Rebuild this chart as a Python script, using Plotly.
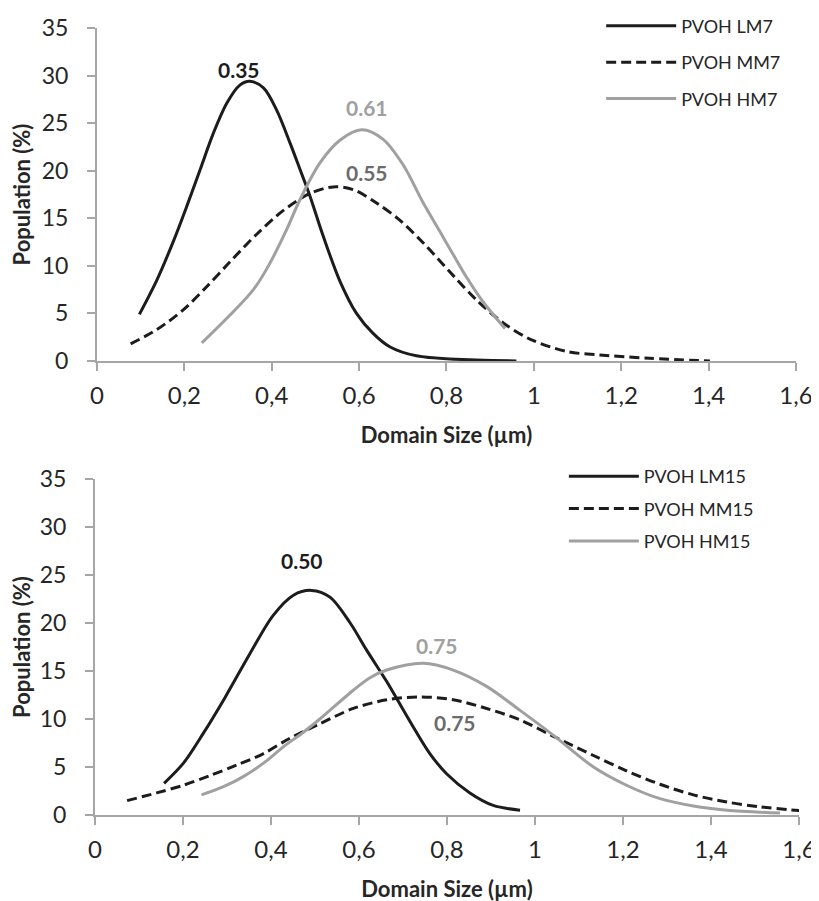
import plotly.graph_objects as go

# ---------- data ----------
# top panel
lm7_x = [0.097, 0.137, 0.175, 0.205, 0.236, 0.266, 0.297, 0.327, 0.350, 0.381, 0.411, 0.442, 0.465, 0.487, 0.518, 0.556, 0.594, 0.632, 0.670, 0.731, 0.96]
lm7_y = [4.9, 8.5, 12.6, 16.2, 20.1, 23.9, 27.1, 29.0, 29.4, 28.7, 26.4, 22.9, 20.1, 17.4, 13.1, 8.4, 5.0, 2.9, 1.5, 0.55, 0.0]
mm7_x = [0.077, 0.137, 0.198, 0.251, 0.304, 0.365, 0.426, 0.487, 0.541, 0.587, 0.640, 0.693, 0.747, 0.815, 0.869, 0.930, 0.991, 1.075, 1.151, 1.265, 1.403]
mm7_y = [1.8, 3.3, 5.4, 7.8, 10.4, 13.3, 15.8, 17.6, 18.3, 18.0, 16.6, 14.8, 12.4, 9.0, 6.4, 4.0, 2.3, 1.0, 0.63, 0.28, 0.0]
hm7_x = [0.240, 0.358, 0.396, 0.434, 0.465, 0.510, 0.556, 0.606, 0.655, 0.701, 0.747, 0.785, 0.819, 0.846, 0.884, 0.934]
hm7_y = [1.9, 7.5, 10.3, 13.8, 17.0, 20.8, 23.2, 24.3, 23.3, 20.6, 16.6, 13.6, 10.9, 8.8, 6.2, 3.4]

# bottom panel
lm15_x = [0.157, 0.201, 0.246, 0.295, 0.352, 0.405, 0.451, 0.492, 0.534, 0.580, 0.617, 0.663, 0.686, 0.723, 0.761, 0.799, 0.852, 0.905, 0.966]
lm15_y = [3.3, 5.4, 8.5, 12.2, 16.8, 20.8, 22.9, 23.4, 22.7, 20.0, 17.2, 13.9, 12.1, 9.2, 6.4, 4.3, 2.3, 1.0, 0.5]
mm15_x = [0.073, 0.140, 0.201, 0.261, 0.322, 0.383, 0.443, 0.511, 0.587, 0.663, 0.739, 0.814, 0.890, 0.966, 1.042, 1.133, 1.208, 1.284, 1.360, 1.436, 1.511, 1.602]
mm15_y = [1.5, 2.3, 3.1, 4.1, 5.2, 6.4, 8.0, 9.5, 11.1, 12.0, 12.3, 12.0, 11.1, 9.9, 8.2, 6.2, 4.6, 3.2, 2.1, 1.35, 0.85, 0.45]
hm15_x = [0.242, 0.292, 0.337, 0.383, 0.428, 0.473, 0.511, 0.587, 0.625, 0.663, 0.746, 0.814, 0.890, 0.966, 1.042, 1.133, 1.208, 1.284, 1.360, 1.436, 1.557]
hm15_y = [2.1, 2.95, 4.0, 5.4, 7.1, 8.6, 10.0, 13.0, 14.3, 15.1, 15.8, 15.1, 13.4, 10.9, 8.3, 5.0, 3.1, 1.7, 0.94, 0.5, 0.2]

top_names = ["PVOH LM7", "PVOH MM7", "PVOH HM7"]
bot_names = ["PVOH LM15", "PVOH MM15", "PVOH HM15"]

x_tickvals = [0, 0.2, 0.4, 0.6, 0.8, 1.0, 1.2, 1.4, 1.6]
x_ticktext = ["0", "0,2", "0,4", "0,6", "0,8", "1", "1,2", "1,4", "1,6"]
y_tickvals = [0, 5, 10, 15, 20, 25, 30, 35]

# peak labels
top_labels = ["0.35", "0.61", "0.55"]
top_label_x = [0.325, 0.618, 0.618]
top_label_y = [30.6, 26.6, 19.8]
bot_labels = ["0.50", "0.75", "0.75"]
bot_label_x = [0.470, 0.777, 0.818]
bot_label_y = [26.5, 17.7, 9.6]

# ---------- styles ----------
BLACK = "#1c1c1c"
GRAY = "#a0a0a0"
DARKGRAY = "#6b6b6b"
AXIS = "#a6a6a6"
TXT = "#262626"
FONT = "Lato"
styles = [dict(color=BLACK, width=3, dash="solid"),
          dict(color=BLACK, width=3, dash="10px,5px"),
          dict(color=GRAY, width=3, dash="solid")]
label_colors = [BLACK, GRAY, DARKGRAY]

fig = go.Figure()
for i, (xs, ys) in enumerate([(lm7_x, lm7_y), (mm7_x, mm7_y), (hm7_x, hm7_y)]):
    fig.add_trace(go.Scatter(x=xs, y=ys, mode="lines", name=top_names[i],
                             line=dict(shape="spline", smoothing=0.9, **styles[i]),
                             xaxis="x", yaxis="y", legend="legend",
                             legendgroup="t%d" % i))
for i, (xs, ys) in enumerate([(lm15_x, lm15_y), (mm15_x, mm15_y), (hm15_x, hm15_y)]):
    fig.add_trace(go.Scatter(x=xs, y=ys, mode="lines", name=bot_names[i],
                             line=dict(shape="spline", smoothing=0.9, **styles[i]),
                             xaxis="x2", yaxis="y2", legend="legend2",
                             legendgroup="b%d" % i))

ann = []
for t, x, y, c in zip(top_labels, top_label_x, top_label_y, label_colors):
    ann.append(dict(text=t, x=x, y=y, xref="x", yref="y", showarrow=False,
                    font=dict(family=FONT, size=21, color=c, weight="bold")))
for t, x, y, c in zip(bot_labels, bot_label_x, bot_label_y, label_colors):
    ann.append(dict(text=t, x=x, y=y, xref="x2", yref="y2", showarrow=False,
                    font=dict(family=FONT, size=21, color=c, weight="bold")))

def xax(domain, anchor):
    return dict(domain=domain, anchor=anchor, range=[0, 1.6], tickvals=x_tickvals, ticktext=x_ticktext,
                showline=True, linecolor=AXIS, linewidth=2, ticks="outside", ticklen=8, tickwidth=2,
                tickcolor=AXIS, showgrid=False, zeroline=False, ticklabelstandoff=4, automargin=False,
                tickfont=dict(family=FONT, size=24, color=TXT),
                title=dict(text="Domain Size (µm)", standoff=20,
                           font=dict(family=FONT, size=22, color=TXT, weight="bold")))

def yax(domain, anchor):
    return dict(domain=domain, anchor=anchor, range=[0, 35], tickvals=y_tickvals,
                showline=True, linecolor=AXIS, linewidth=2, ticks="outside", ticklen=8, tickwidth=2,
                tickcolor=AXIS, showgrid=False, zeroline=False, ticklabelstandoff=14, automargin=False,
                tickfont=dict(family=FONT, size=23, color=TXT),
                title=dict(text="Population (%)", standoff=5,
                           font=dict(family=FONT, size=22, color=TXT, weight="bold")))

fig.update_layout(
    width=819, height=901,
    margin=dict(l=87, r=28, t=20, b=94, autoexpand=False),
    paper_bgcolor="white", plot_bgcolor="white",
    font=dict(family=FONT, color=TXT),
    xaxis=xax([0.00284, 0.9957], "y"),
    yaxis=yax([0.5769, 1.0], "x"),
    xaxis2=xax([0.0, 1.0], "y2"),
    yaxis2=yax([0.0, 0.4269], "x2"),
    legend=dict(x=0.719, y=1.026, xanchor="left", yanchor="top", bgcolor="rgba(0,0,0,0)",
                font=dict(family=FONT, size=18, color=TXT), tracegroupgap=10, itemwidth=70),
    legend2=dict(x=0.666, y=0.4536, xanchor="left", yanchor="top", bgcolor="rgba(0,0,0,0)",
                 font=dict(family=FONT, size=18, color=TXT), tracegroupgap=6, itemwidth=70),
    annotations=ann,
    showlegend=True,
)

fig.write_html("out.html")
